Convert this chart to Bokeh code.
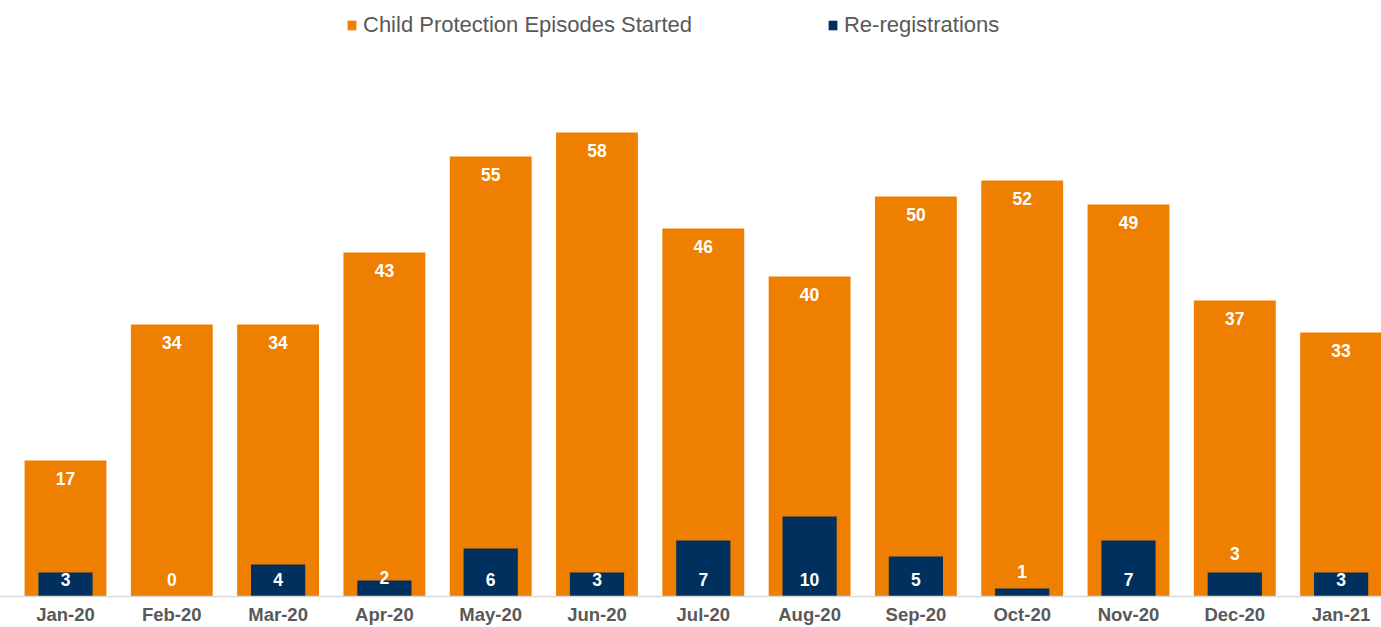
from bokeh.plotting import figure
from bokeh.models import ColumnDataSource, Range1d, FixedTicker, Legend, LegendItem
from bokeh.core.properties import value
from bokeh.embed import file_html
from bokeh.resources import INLINE

months = ["Jan-20", "Feb-20", "Mar-20", "Apr-20", "May-20", "Jun-20", "Jul-20",
          "Aug-20", "Sep-20", "Oct-20", "Nov-20", "Dec-20", "Jan-21"]
episodes = [17, 34, 34, 43, 55, 58, 46, 40, 50, 52, 49, 37, 33]
reregistrations = [3, 0, 4, 2, 6, 3, 7, 10, 5, 1, 7, 3, 3]

# layout-only: manual label nudges in screen pixels for re-registration labels
rereg_label_lift = {3: 2, 9: 8, 11: 26}

ORANGE = "#EE7F00"
NAVY = "#00305E"
GREY = "#595959"
FONT = "Liberation Sans"

xs = list(range(len(months)))
src = ColumnDataSource(dict(
    x=xs,
    ep=episodes,
    rr=reregistrations,
    ep_txt=[str(v) for v in episodes],
    rr_txt=[str(v) for v in reregistrations],
    zero=[0] * len(xs),
    rr_off=[-17 - rereg_label_lift.get(i, 0) for i in xs],
))

W, H = 1381, 627
px_per_cat = 106.3
x_start = -65 / px_per_cat
x_end = x_start + W / px_per_cat
frame_h = 596
y_end = frame_h / 8.0

p = figure(width=W, height=H, output_backend="svg", toolbar_location=None,
           x_range=Range1d(x_start, x_end), y_range=Range1d(0, y_end),
           min_border_left=0, min_border_right=0, min_border_top=0, min_border_bottom=0)
p.outline_line_color = None
p.background_fill_color = "white"
p.border_fill_color = "white"
p.grid.visible = False
p.yaxis.visible = False

r1 = p.vbar(x="x", top="ep", width=0.77, source=src, fill_color=ORANGE, line_color=None)
r2 = p.vbar(x="x", top="rr", width=0.51, source=src, fill_color=NAVY, line_color=None)

p.text(x="x", y="ep", text="ep_txt", source=src, y_offset=18,
       text_align="center", text_baseline="middle", text_color="white",
       text_font=value(FONT), text_font_style="bold", text_font_size="17.5px")
p.text(x="x", y="zero", text="rr_txt", source=src, y_offset="rr_off",
       text_align="center", text_baseline="middle", text_color="white",
       text_font=value(FONT), text_font_style="bold", text_font_size="17.5px")

ax = p.xaxis[0]
ax.ticker = FixedTicker(ticks=xs)
ax.major_label_overrides = {i: m for i, m in enumerate(months)}
ax.major_tick_line_color = None
ax.minor_tick_line_color = None
ax.axis_line_color = "#D9D9D9"
ax.axis_line_width = 1.5
ax.major_label_text_font = FONT
ax.major_label_text_font_style = "bold"
ax.major_label_text_font_size = "18.5px"
ax.major_label_text_color = GREY
ax.major_label_standoff = 1

legend = Legend(items=[LegendItem(label="Child Protection Episodes Started", renderers=[r1]),
                       LegendItem(label="Re-registrations", renderers=[r2])],
                orientation="horizontal", location=(346, frame_h - 12 - 26),
                glyph_width=11, glyph_height=12, label_standoff=6, spacing=135,
                label_text_font=FONT, label_text_font_size="22px", label_text_color=GREY,
                border_line_color=None, background_fill_alpha=0, margin=0, padding=0)
p.add_layout(legend, "center")

open("out.html", "w").write(file_html(p, INLINE))
